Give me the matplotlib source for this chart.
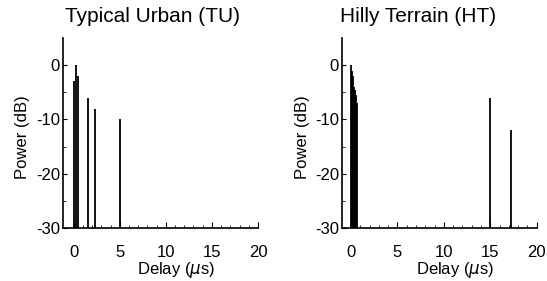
import matplotlib.pyplot as plt
import numpy as np

plt.rcParams['font.family'] = ['Liberation Sans', 'DejaVu Sans']

# Typical Urban (TU) power delay profile
tu_delay = [0.0, 0.2, 0.5, 1.6, 2.3, 5.0]
tu_power = [-3, 0, -2, -6, -8, -10]

# Hilly Terrain (HT) power delay profile
ht_delay = [0.0, 0.1, 0.2, 0.3, 0.4, 0.5, 0.6, 15.0, 17.2]
ht_power = [0, -1, -2, -4, -4.5, -5.5, -7, -6, -12]

titles = ["Typical Urban (TU)", "Hilly Terrain (HT)"]
xticks = [0, 5, 10, 15, 20]
yticks = [0, -10, -20, -30]
ytick_labels = ["0", "-10", "-20", "-30"]


def draw_profile(ax, delay, power, xmin):
    ax.vlines(delay, -30, power, colors="black", lw=1.3)
    ax.set_xlim(xmin, 20)
    ax.set_ylim(-30, 5)
    ax.spines["top"].set_visible(False)
    ax.spines["right"].set_visible(False)
    ax.spines["left"].set_linewidth(1.2)
    ax.spines["bottom"].set_linewidth(1.2)
    ax.set_xticks(xticks)
    ax.set_xticks(np.arange(0, 21, 1), minor=True)
    ax.set_yticks(yticks)
    ax.set_yticklabels(ytick_labels)
    ax.set_yticks(np.arange(-30, 1, 5), minor=True)
    ax.tick_params(axis="x", which="major", direction="in", length=4, pad=12, labelsize=12)
    ax.tick_params(axis="x", which="minor", direction="in", length=2)
    ax.tick_params(axis="y", which="major", direction="in", length=3, pad=2, labelsize=12)
    ax.tick_params(axis="y", which="minor", direction="in", length=2)
    ax.set_ylabel("Power (dB)", fontsize=12)
    ax.set_xlabel(r"Delay ($\mu$s)", fontsize=12)
    ax.xaxis.set_label_coords(0.58, -0.17)
    ax.yaxis.set_label_coords(-0.165, 0.48)


fig = plt.figure(figsize=(5.47, 2.81), dpi=100)
ax1 = fig.add_axes([0.1146, 0.1886, 0.357, 0.676])
ax2 = fig.add_axes([0.6247, 0.1886, 0.3565, 0.676])

draw_profile(ax1, tu_delay, tu_power, -1.2)
draw_profile(ax2, ht_delay, ht_power, -1.0)

fig.text(0.278, 0.94, titles[0], ha="center", va="center", fontsize=15)
fig.text(0.764, 0.94, titles[1], ha="center", va="center", fontsize=15)

plt.savefig("out.png", dpi=100)
